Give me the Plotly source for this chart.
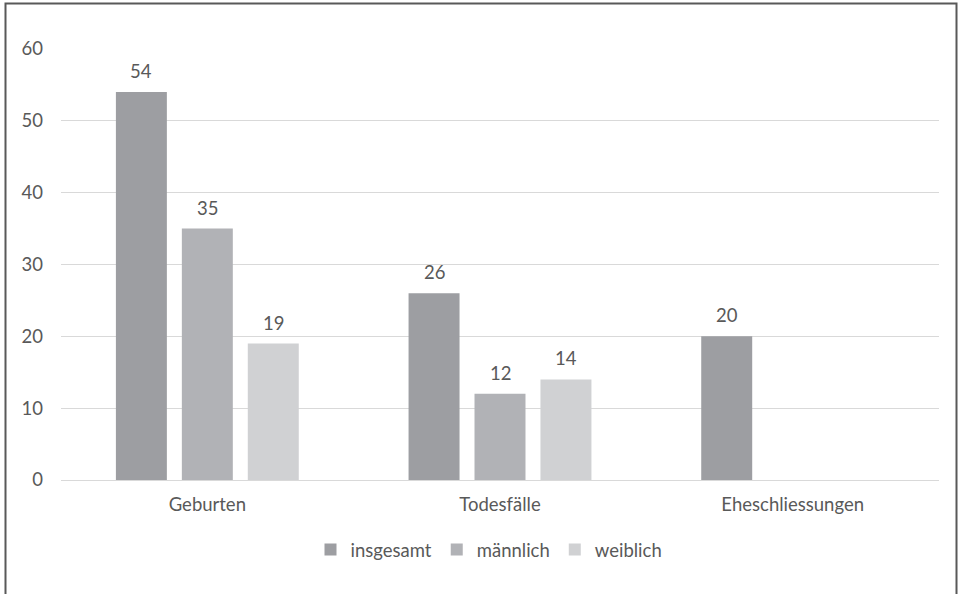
import plotly.graph_objects as go

categories = ["Geburten", "Todesfälle", "Eheschliessungen"]
insgesamt = [54, 26, 20]
maennlich = [35, 12, None]
weiblich = [19, 14, None]
series_names = ["insgesamt", "männlich", "weiblich"]
colors = ["#9d9ea2", "#b1b2b6", "#d0d1d3"]

FONT = "Lato"
TXT = "#595959"
FS = 18.5

W, H = 962, 594
L, R, T, B = 61, 23, 49, 114
pw, ph = W - L - R, H - T - B
BARGAP, GROUPGAP = 0.324, 0.227

fig = go.Figure()
all_vals = [insgesamt, maennlich, weiblich]
for name, vals, col in zip(series_names, all_vals, colors):
    fig.add_trace(go.Bar(
        x=categories, y=vals, name=name, marker=dict(color=col, line=dict(width=0)),
    ))

# value labels above bars (offset of each group slot derived from bargap)
slot = (1 - BARGAP) * (pw / len(categories)) / len(all_vals)
annotations = []
for i, vals in enumerate(all_vals):
    off = (i - (len(all_vals) - 1) / 2) * slot
    for c, v in zip(categories, vals):
        if v is None:
            continue
        annotations.append(dict(x=c, y=v, text=str(v), showarrow=False, xshift=off,
                                yanchor="bottom", yshift=8,
                                font=dict(family=FONT, size=FS, color=TXT)))

fig.update_layout(
    width=W, height=H,
    margin=dict(l=L, r=R, t=T, b=B),
    paper_bgcolor="white", plot_bgcolor="white",
    barmode="group", bargap=BARGAP, bargroupgap=GROUPGAP,
    font=dict(family=FONT, size=FS, color=TXT),
    showlegend=True,
    legend=dict(orientation="h", x=(489 - L) / pw, xanchor="center", y=(480 - 550) / ph, yanchor="middle",
                font=dict(family=FONT, size=FS, color=TXT), itemclick=False, itemwidth=30),
    xaxis=dict(showgrid=False, showline=False, ticks="", ticklabelstandoff=11,
               tickfont=dict(family=FONT, size=FS, color=TXT)),
    yaxis=dict(range=[0, 60], dtick=10, showgrid=True, gridcolor="#d9d9d9", gridwidth=1,
               zeroline=True, zerolinecolor="#d9d9d9", zerolinewidth=1, showline=False,
               ticks="", ticklabelstandoff=17,
               tickfont=dict(family=FONT, size=FS, color=TXT)),
    annotations=annotations,
    shapes=[dict(type="rect", xref="paper", yref="paper",
                 x0=(5.5 - L) / pw, x1=(956.5 - L) / pw,
                 y0=(T + ph - 600) / ph, y1=(T + ph - 3.5) / ph,
                 line=dict(color="#595959", width=2), fillcolor="rgba(0,0,0,0)", layer="above")],
)

fig.write_html("out.html")
